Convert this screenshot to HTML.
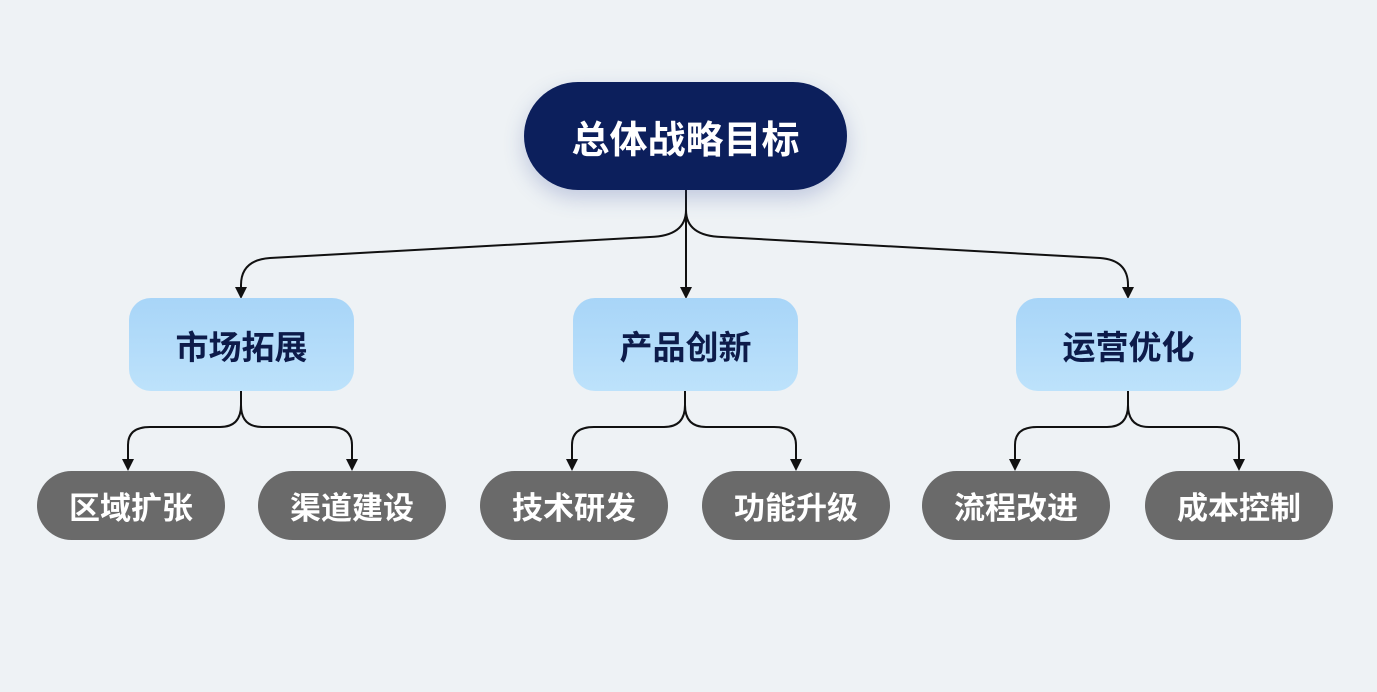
<!DOCTYPE html>
<html><head><meta charset="utf-8"><style>
body{margin:0;width:1377px;height:692px;background:#eef2f5;position:relative;overflow:hidden;font-family:"Liberation Sans","Noto Sans CJK SC",sans-serif;font-weight:bold}
.n{position:absolute;display:flex;align-items:center;justify-content:center;box-sizing:border-box}
.root{left:524px;top:82px;width:323px;height:108px;border-radius:54px;background:#0c1f5c;color:#fff;font-size:38px;box-shadow:0 8px 20px rgba(60,80,160,0.25)}
.b{top:298px;width:225px;height:93px;border-radius:22px;background:linear-gradient(#a8d5f8,#bde2fb);color:#0d1b4a;font-size:33px}
.g{top:471px;width:188px;height:69px;border-radius:35px;background:#6a6a6a;color:#fff;font-size:31px}
svg{position:absolute;left:0;top:0}
</style></head><body>
<svg width="1377" height="692" fill="none" stroke="#111" stroke-width="2">
<path d="M686 190 V210 Q686 236 650 237 L270 258 Q241 260 241 285 V292"/>
<path d="M686 190 V210 Q686 236 722 237 L1100 258 Q1128 260 1128 285 V292"/>
<path d="M686 190 V290"/>
<g fill="#111" stroke="none">
<path d="M235 287 L247 287 L241 299 Z"/><path d="M680 287 L692 287 L686 299 Z"/><path d="M1122 287 L1134 287 L1128 299 Z"/>
</g>
<path d="M241 391 V405 Q241 427 220 427 H150 Q128 427 128 445 V463"/><path d="M241 391 V405 Q241 427 262 427 H330 Q352 427 352 445 V463"/>
<path d="M685 391 V405 Q685 427 664 427 H594 Q572 427 572 445 V463"/><path d="M685 391 V405 Q685 427 706 427 H774 Q796 427 796 445 V463"/>
<path d="M1128 391 V405 Q1128 427 1107 427 H1037 Q1015 427 1015 445 V463"/><path d="M1128 391 V405 Q1128 427 1149 427 H1217 Q1239 427 1239 445 V463"/>
<g fill="#111" stroke="none">
<path d="M122 459 L134 459 L128 471 Z"/><path d="M346 459 L358 459 L352 471 Z"/>
<path d="M566 459 L578 459 L572 471 Z"/><path d="M790 459 L802 459 L796 471 Z"/>
<path d="M1009 459 L1021 459 L1015 471 Z"/><path d="M1233 459 L1245 459 L1239 471 Z"/>
</g>
</svg>
<div class="n root">总体战略目标</div>
<div class="n b" style="left:129px">市场拓展</div>
<div class="n b" style="left:573px">产品创新</div>
<div class="n b" style="left:1016px">运营优化</div>
<div class="n g" style="left:37px">区域扩张</div>
<div class="n g" style="left:258px">渠道建设</div>
<div class="n g" style="left:480px">技术研发</div>
<div class="n g" style="left:702px">功能升级</div>
<div class="n g" style="left:922px">流程改进</div>
<div class="n g" style="left:1145px">成本控制</div>
</body></html>
